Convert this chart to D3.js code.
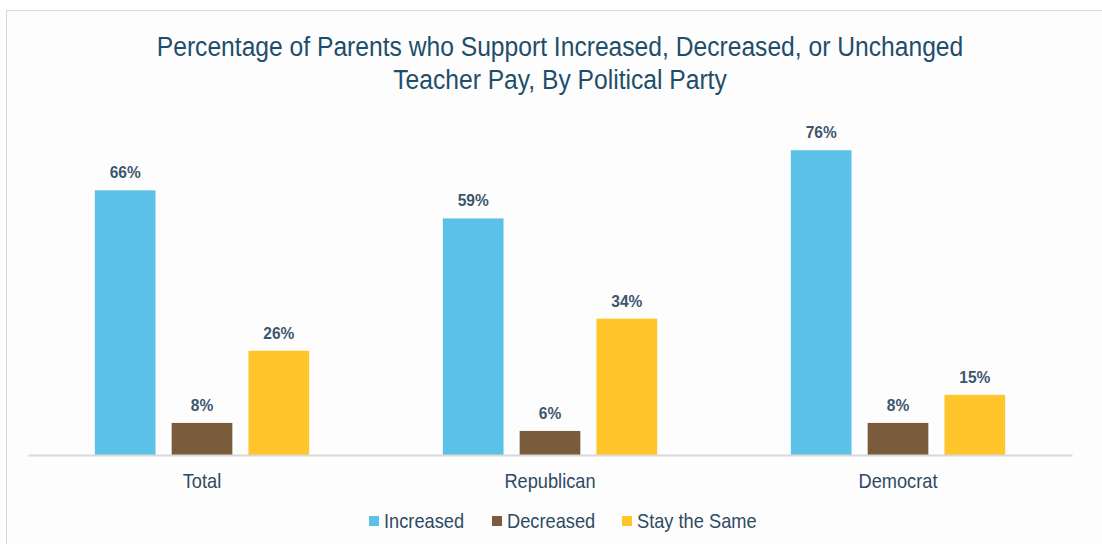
<!DOCTYPE html>
<html>
<head>
<meta charset="utf-8">
<script src="https://cdn.jsdelivr.net/npm/d3@7"></script>
<style>
  html, body { margin: 0; padding: 0; background: #ffffff; }
  svg { display: block; }
  text { font-family: "Liberation Sans", Arial, sans-serif; }
</style>
</head>
<body>
<svg id="chart" width="1102" height="544"></svg>
<script>
const categories = ["Total", "Republican", "Democrat"];
const seriesNames = ["Increased", "Decreased", "Stay the Same"];
const increased = [66, 59, 76];
const decreased = [8, 6, 8];
const stayTheSame = [26, 34, 15];
const seriesValues = [increased, decreased, stayTheSame];
const colors = ["#5bc1e7", "#7a5b3c", "#ffc52b"];
const titleLines = ["Percentage of Parents who Support Increased, Decreased, or Unchanged", "Teacher Pay, By Political Party"];

const svg = d3.select("#chart");
const W = 1102, H = 544;

// frame
svg.append("rect").attr("x", 6.5).attr("y", 10.5).attr("width", W + 20).attr("height", H + 20)
  .attr("fill", "#fdfdfd").attr("stroke", "#d9d9d9").attr("stroke-width", 1);

const x0 = d3.scaleBand().domain(categories).range([28, 1072]).paddingInner(0).paddingOuter(0);
const x1 = d3.scaleBand().domain(seriesNames).range([0, x0.bandwidth()]).paddingInner(0.21).paddingOuter(0.87);
const y = d3.scaleLinear().domain([0, 100]).range([455, 54]);

// horizontal condensing helper (reference uses a narrow typeface)
let SX = 0.85;
function squeeze(sel, cx, cy, sx) {
  sel.attr("x", 0).attr("y", 0).attr("transform", `translate(${cx},${cy}) scale(${sx || SX},1)`);
}

// title
const t1 = svg.append("text").attr("text-anchor", "middle").attr("fill", "#1f4e6b").attr("font-size", 28).text(titleLines[0]);
const natural = t1.node().getComputedTextLength();
const TSX = 807 / natural;
SX = TSX * 28 / 27;
squeeze(t1, 560, 56, TSX);
const t2 = svg.append("text").attr("text-anchor", "middle").attr("fill", "#1f4e6b").attr("font-size", 28).text(titleLines[1]);
squeeze(t2, 560, 89, TSX);

// bars
const groups = svg.append("g").selectAll("g").data(categories).join("g")
  .attr("transform", d => `translate(${x0(d)},0)`);

groups.each(function(cat, ci) {
  const g = d3.select(this);
  seriesNames.forEach((s, si) => {
    const v = seriesValues[si][ci];
    g.append("rect")
      .attr("x", x1(s)).attr("y", y(v))
      .attr("width", x1.bandwidth()).attr("height", y(0) - y(v))
      .attr("fill", colors[si]);
    const lbl = g.append("text")
      .attr("text-anchor", "middle").attr("fill", "#3c566d")
      .attr("font-size", 17).attr("font-weight", "bold")
      .text(v + "%");
    squeeze(lbl, x1(s) + x1.bandwidth() / 2, y(v) - 12);
  });
});

// x axis
const xAxis = d3.axisBottom(x0).tickSize(0).tickPadding(19);
const ax = svg.append("g").attr("transform", `translate(0,${y(0)})`).call(xAxis);
ax.select(".domain").attr("stroke", "#d9d9d9").attr("stroke-width", 2);
ax.selectAll(".tick text").attr("font-size", 20).attr("fill", "#2f4a63")
  .style("font-family", '"Liberation Sans", Arial, sans-serif')
  .attr("transform", `scale(${SX},1)`);

// legend
const legendItems = [
  { name: seriesNames[0], x: 369 },
  { name: seriesNames[1], x: 492 },
  { name: seriesNames[2], x: 622 }
];
const lg = svg.append("g").selectAll("g").data(legendItems).join("g")
  .attr("transform", d => `translate(${d.x},521)`);
lg.append("rect").attr("x", 0).attr("y", -5).attr("width", 10).attr("height", 10)
  .attr("fill", (d, i) => colors[i]);
lg.append("text").attr("font-size", 20).attr("fill", "#2f4a63")
  .text(d => d.name)
  .each(function() { squeeze(d3.select(this), 15, 7); });
</script>
</body>
</html>
